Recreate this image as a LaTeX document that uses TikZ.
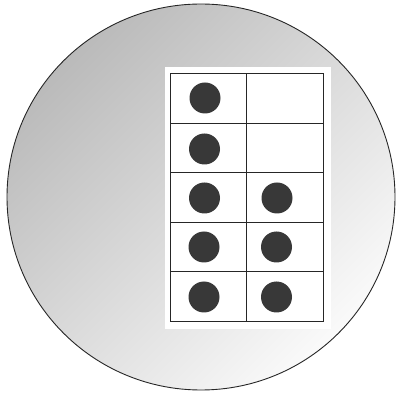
\documentclass[tikz,border=0pt]{standalone}
\begin{document}
\begin{tikzpicture}[x=1pt,y=1pt,
  cell/.style={draw=black!85,line width=0.8pt,minimum width=76.5pt,minimum height=49.6pt,inner sep=0pt,outer sep=0pt},
  dot/.style={circle,fill=black!78,minimum size=31pt,inner sep=0pt}]
\useasboundingbox (0,0) rectangle (397,394);
\shade[left color=black!27,right color=black!2,shading angle=45] (201,197) ellipse [x radius=194,y radius=193];
\draw[line width=0.9pt,black!85] (201,197) ellipse [x radius=194,y radius=193];
\fill[white] (165,{394-67}) rectangle (331,{394-329});
\foreach \r in {1,...,5}{
  \node[cell] (L\r) at (208.25,{394-(73.5+(\r-0.5)*49.6)}) {};
  \node[cell] (R\r) at (284.75,{394-(73.5+(\r-0.5)*49.6)}) {};
}
\node[dot] (d1) at (205,{394-98}) {};
\node[dot] (d2) at (204.5,{394-149}) {};
\node[dot] (d3) at (204.5,{394-198}) {};
\node[dot] (d4) at (204,{394-247}) {};
\node[dot] (d5) at (204,{394-297}) {};
\node[dot] (e3) at (277,{394-198}) {};
\node[dot] (e4) at (276.5,{394-247}) {};
\node[dot] (e5) at (276.5,{394-297}) {};
\end{tikzpicture}
\end{document}
